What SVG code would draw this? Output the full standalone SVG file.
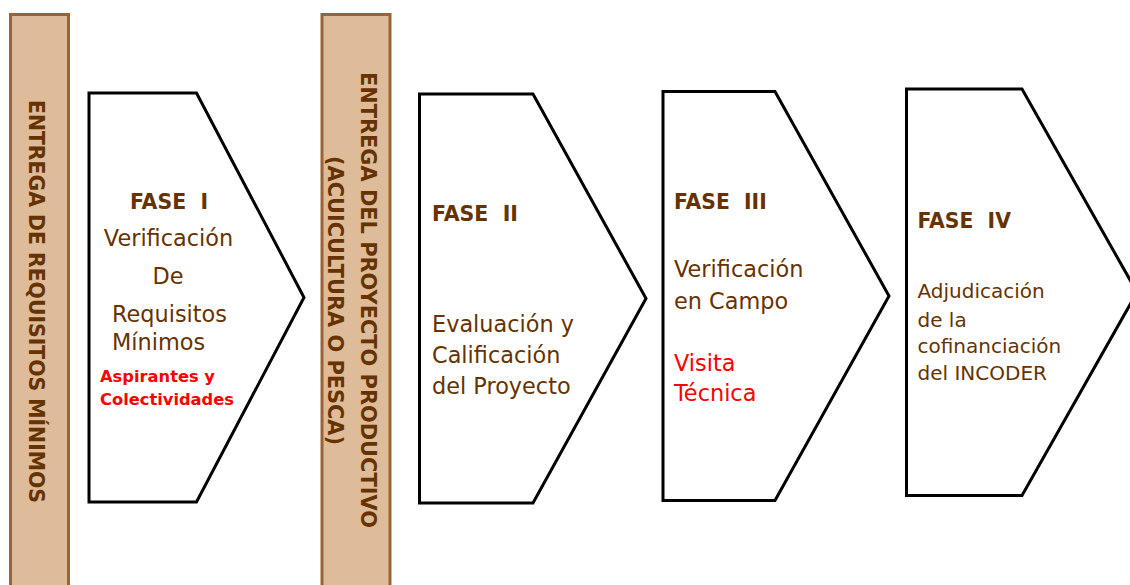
<svg xmlns="http://www.w3.org/2000/svg" width="1130" height="585" viewBox="0 0 1130 585">
<style>
.bar{fill:#DEBB99;stroke:#9B6334;stroke-width:3}
.bartxt{font-family:"DejaVu Sans","Liberation Sans",sans-serif;font-weight:bold;font-size:20.5px;fill:#663300}
.pent{fill:#ffffff;stroke:#000000;stroke-width:3;stroke-linejoin:miter}
.fase{font-family:"DejaVu Sans","Liberation Sans",sans-serif;font-weight:bold;font-size:22px;fill:#663300}
.t{font-family:"DejaVu Sans","Liberation Sans",sans-serif;font-size:22.4px;fill:#663300}
.t4{font-family:"DejaVu Sans","Liberation Sans",sans-serif;font-size:20px;fill:#663300}
.red{fill:#FF0000}
.redb{font-family:"DejaVu Sans","Liberation Sans",sans-serif;font-weight:bold;font-size:16.3px;fill:#FF0000}
.mid{text-anchor:middle}
</style>
<rect width="1130" height="585" fill="#ffffff"/>
<g id="bar1">
<rect class="bar" x="10.5" y="14.5" width="58" height="580"/>
<text class="bartxt" transform="translate(29,100) rotate(90)" textLength="403" lengthAdjust="spacingAndGlyphs">ENTREGA DE REQUISITOS MÍNIMOS</text>
</g>
<g id="bar2">
<rect class="bar" x="322" y="14.5" width="68" height="580"/>
<text class="bartxt" transform="translate(361,72) rotate(90)" textLength="456" lengthAdjust="spacingAndGlyphs">ENTREGA DEL PROYECTO PRODUCTIVO</text>
<text class="bartxt" transform="translate(328,156) rotate(90)" textLength="289" lengthAdjust="spacingAndGlyphs">(ACUICULTURA O PESCA)</text>
</g>
<g id="fase1">
<polygon class="pent" points="89,93 196.5,93 304,297.5 196.5,502 89,502"/>
<text class="fase mid" x="169" y="209" xml:space="preserve" textLength="78" lengthAdjust="spacingAndGlyphs">FASE  I</text>
<text class="t mid" x="168.5" y="245.5">Verificación</text>
<text class="t mid" x="168" y="284">De</text>
<text class="t" x="112" y="322">Requisitos</text>
<text class="t" x="112" y="350">Mínimos</text>
<text class="redb" x="100" y="382">Aspirantes y</text>
<text class="redb" x="100" y="405">Colectividades</text>
</g>
<g id="fase2">
<polygon class="pent" points="419.5,94 533,94 646,298.5 533,503 419.5,503"/>
<text class="fase" x="432" y="220.5" xml:space="preserve" textLength="86" lengthAdjust="spacingAndGlyphs">FASE  II</text>
<text class="t" x="432" y="332">Evaluación y</text>
<text class="t" x="432" y="363">Calificación</text>
<text class="t" x="432" y="394">del Proyecto</text>
</g>
<g id="fase3">
<polygon class="pent" points="663,91.5 775,91.5 889,296 775,500.5 663,500.5"/>
<text class="fase" x="674" y="209" xml:space="preserve" textLength="92.7" lengthAdjust="spacingAndGlyphs">FASE  III</text>
<text class="t" x="674" y="276.5">Verificación</text>
<text class="t" x="674" y="309">en Campo</text>
<text class="t red" x="674" y="370.5">Visita</text>
<text class="t red" x="674" y="401">Técnica</text>
</g>
<g id="fase4">
<polygon class="pent" points="906.5,89 1022,89 1137,292.25 1022,495.5 906.5,495.5"/>
<text class="fase" x="917.5" y="227.5" xml:space="preserve" textLength="93.4" lengthAdjust="spacingAndGlyphs">FASE  IV</text>
<text class="t4" x="917.5" y="298">Adjudicación</text>
<text class="t4" x="917.5" y="326.5">de la</text>
<text class="t4" x="917.5" y="353">cofinanciación</text>
<text class="t4" x="917.5" y="380">del INCODER</text>
</g>
<g id="connectors"/>
</svg>
